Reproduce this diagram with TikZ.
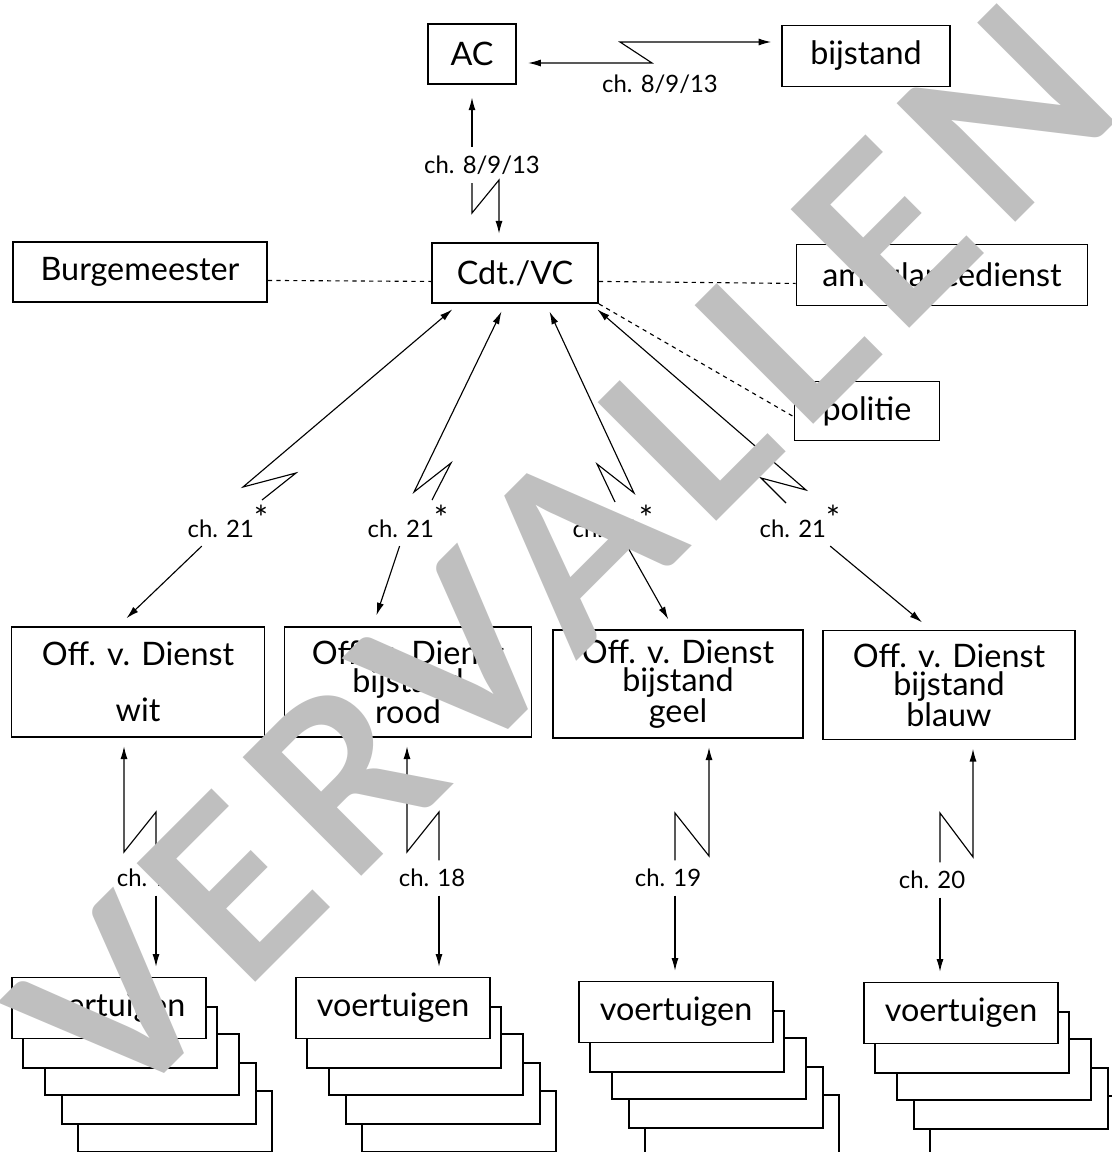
\documentclass[tikz,border=0pt]{standalone}
\usepackage{fontspec}
\setmainfont{Lato}
\usetikzlibrary{arrows.meta}

\tikzset{
  box/.style={draw, line width=1.3pt, fill=white, inner sep=0pt, align=center,
    font=\fontsize{23}{20}\selectfont},
  chan/.style={inner sep=6pt, font=\fontsize{17}{20}\selectfont},
  link/.style={line width=0.8pt},
  stackbox/.style={draw, line width=1.3pt, fill=white},
}
\newcommand{\chstar}{\raisebox{.3em}{\fontsize{24}{24}\selectfont *}}

\begin{document}
\begin{tikzpicture}[x=0.025cm, y=-0.025cm, >={Latex[length=9pt,width=5pt]}]
  \useasboundingbox (0,0) rectangle (1112,1152);
  \clip (0,0) rectangle (1112,1152);

  % top row
  \node[box, minimum width=2.2cm, minimum height=1.5cm] (ac) at (472,54) {AC};
  \node[box, minimum width=4.2cm, minimum height=1.525cm] (bijstand) at (866,56) {bijstand};
  \node[chan] (l0) at (660,84) {ch. 8/9/13};
  \coordinate (za) at (652,63);
  \coordinate (zb) at (620,42);
  \draw[link, <->, shorten <=8pt, shorten >=7pt]
    (ac.east |- za) -- (za) -- (zb) -- (bijstand.west |- zb);

  % commandant and partners
  \node[box, minimum width=4.15cm, minimum height=1.5cm] (cdt) at (515,273) {Cdt./VC};
  \node[box, minimum width=6.35cm, minimum height=1.5cm] (burg) at (140,272) {Burgemeester};
  \node[box, minimum width=7.275cm, minimum height=1.525cm] (amb) at (942,275) {ambulancedienst};
  \node[box, minimum width=3.625cm, minimum height=1.475cm] (politie) at (867,411) {politie};

  \node[chan] (lv) at (482,165) {ch. 8/9/13};
  \coordinate (zc) at (472,213);
  \coordinate (zd) at (499,180);
  \draw[link, ->, shorten >=9pt] (ac.south |- lv.north) -- (ac.south);
  \draw[link, ->, shorten >=6pt] (ac.south |- lv.south) -- (zc) -- (zd) -- (zd |- cdt.north);

  \draw[link, dashed] ([yshift=-6pt]burg.east) -- ([yshift=-6pt]cdt.west);
  \draw[link, dashed] ([yshift=-6pt]cdt.east) -- ([yshift=-6pt]amb.west);
  \draw[link, dashed] (cdt.south east) -- ([yshift=-4pt]politie.west);

  % officers of duty
  \node[box, minimum width=6.325cm, minimum height=2.75cm] (wit) at (138,682)
    {Off. v. Dienst\\[20pt]wit};
  \node[box, minimum width=6.175cm, minimum height=2.75cm] (rood) at (408,682)
    {Off. v. Dienst\\bijstand\\rood};
  \node[box, minimum width=6.25cm, minimum height=2.7cm] (geel) at (678,684)
    {Off. v. Dienst\\bijstand\\geel};
  \node[box, minimum width=6.3cm, minimum height=2.725cm] (blauw) at (949,685)
    {Off. v. Dienst\\bijstand\\blauw};

  % channel 21
  \node[chan] (l1) at (228,521) {ch. 21\chstar};
  \node[chan] (l2) at (408,521) {ch. 21\chstar};
  \node[chan] (l3) at (613,521) {ch. 21\chstar};
  \node[chan] (l4) at (800,521) {ch. 21\chstar};

  \coordinate (p1a) at (243,487); \coordinate (p1b) at (296,473); \coordinate (p1c) at (262,500);
  \coordinate (p2a) at (414,492); \coordinate (p2b) at (451,463); \coordinate (p2c) at (432,500);
  \coordinate (p3a) at (634,493); \coordinate (p3b) at (597,464); \coordinate (p3c) at (615,502);
  \coordinate (p4a) at (806,490); \coordinate (p4b) at (761,478); \coordinate (p4c) at (786,503);

  \draw[link, <-, shorten <=6pt] ([xshift=-40pt]cdt.south) -- (p1a) -- (p1b) -- (p1c);
  \draw[link, <-, shorten <=6pt] ([xshift=-7pt]cdt.south) -- (p2a) -- (p2b) -- (p2c);
  \draw[link, <-, shorten <=6pt] ([xshift=22pt]cdt.south) -- (p3a) -- (p3b) -- (p3c);
  \draw[link, <-, shorten <=6pt] ([xshift=54pt]cdt.south) -- (p4a) -- (p4b) -- (p4c);

  \draw[link, ->, shorten >=8pt] (l1) -- ([xshift=-14pt]wit.north);
  \draw[link, ->, shorten >=8pt] (l2) -- ([xshift=-25pt]rood.north);
  \draw[link, ->, shorten >=8pt] (l3) -- ([xshift=-3pt]geel.north);
  \draw[link, ->, shorten >=8pt] (l4) -- ([xshift=-13pt]blauw.north);

  % vehicles, back to front
  \draw[stackbox] (78,1091) rectangle +(194,61);
  \draw[stackbox] (62,1063) rectangle +(194,61);
  \draw[stackbox] (45,1034) rectangle +(194,61);
  \draw[stackbox] (23,1007) rectangle +(194,61);
  \node[box, minimum width=4.85cm, minimum height=1.525cm] (vw1) at (109,1008) {voertuigen};

  \draw[stackbox] (362,1091) rectangle +(194,61);
  \draw[stackbox] (346,1063) rectangle +(194,61);
  \draw[stackbox] (329,1034) rectangle +(194,61);
  \draw[stackbox] (307,1007) rectangle +(194,61);
  \node[box, minimum width=4.85cm, minimum height=1.525cm] (vw2) at (393,1008) {voertuigen};

  \draw[stackbox] (645,1095) rectangle +(194,61);
  \draw[stackbox] (629,1067) rectangle +(194,61);
  \draw[stackbox] (612,1038) rectangle +(194,61);
  \draw[stackbox] (590,1011) rectangle +(194,61);
  \node[box, minimum width=4.85cm, minimum height=1.525cm] (vw3) at (676,1012) {voertuigen};

  \draw[stackbox] (930,1096) rectangle +(194,61);
  \draw[stackbox] (914,1068) rectangle +(194,61);
  \draw[stackbox] (897,1039) rectangle +(194,61);
  \draw[stackbox] (875,1012) rectangle +(194,61);
  \node[box, minimum width=4.85cm, minimum height=1.525cm] (vw4) at (961,1013) {voertuigen};

  % channels 17 to 20
  \node[chan] (lb1) at (150,878) {ch. 17};
  \node[chan] (lb2) at (432,878) {ch. 18};
  \node[chan] (lb3) at (668,878) {ch. 19};
  \node[chan] (lb4) at (932,880) {ch. 20};

  \coordinate (k1t) at (156,812); \coordinate (k1b) at (124,852);
  \coordinate (k2t) at (439,812); \coordinate (k2b) at (407,852);
  \coordinate (k3t) at (675,813); \coordinate (k3b) at (709,856);
  \coordinate (k4t) at (940,813); \coordinate (k4b) at (973,857);

  \draw[link, ->, shorten >=6pt] (lb1.north -| k1t) -- (k1t) -- (k1b) -- (k1b |- wit.south);
  \draw[link, ->, shorten >=6pt] (lb2.north -| k2t) -- (k2t) -- (k2b) -- (k2b |- rood.south);
  \draw[link, ->, shorten >=6pt] (lb3.north -| k3t) -- (k3t) -- (k3b) -- (k3b |- geel.south);
  \draw[link, ->, shorten >=6pt] (lb4.north -| k4t) -- (k4t) -- (k4b) -- (k4b |- blauw.south);

  \draw[link, ->, shorten >=7pt] (lb1.south -| k1t) -- (k1t |- vw1.north);
  \draw[link, ->, shorten >=7pt] (lb2.south -| k2t) -- (k2t |- vw2.north);
  \draw[link, ->, shorten >=7pt] (lb3.south -| k3t) -- (k3t |- vw3.north);
  \draw[link, ->, shorten >=7pt] (lb4.south -| k4t) -- (k4t |- vw4.north);

  % watermark
  \node[rotate=45, anchor=base west, text=black!25, inner sep=0pt,
    font=\fontsize{165}{165}\selectfont\bfseries\addfontfeatures{LetterSpace=7}]
    (wm) at (117,1121) {VERVALLEN};
\end{tikzpicture}
\end{document}
